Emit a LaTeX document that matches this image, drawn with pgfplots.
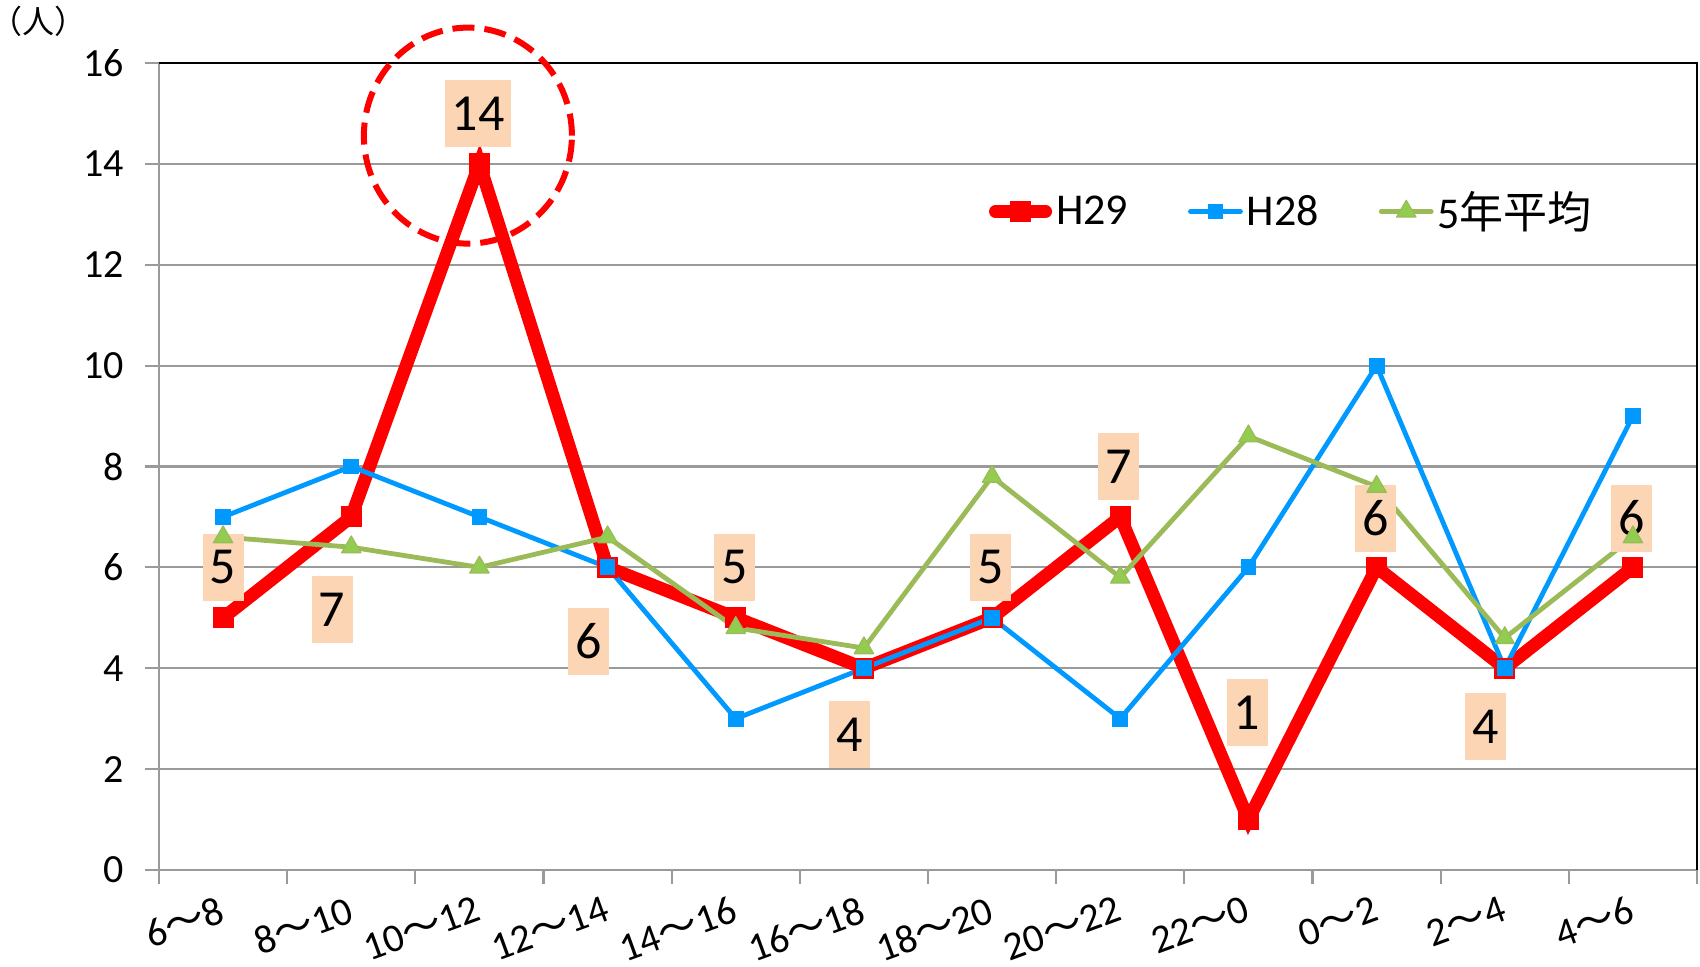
\documentclass[border=0pt]{standalone}
\usepackage{pgfplots}
\pgfplotsset{compat=1.18}
\usepackage{fontspec}
\setmainfont{Carlito}
\newfontfamily\cjk{Noto Sans CJK JP}
\definecolor{h29}{HTML}{FF0000}
\definecolor{h28}{HTML}{0099FF}
\definecolor{avg}{HTML}{9BBB59}
\definecolor{avgfill}{HTML}{92CC50}
\definecolor{peach}{HTML}{FCD5B5}
\definecolor{gridgray}{HTML}{9A9A9A}
\newcommand{\tl}{{\cjk ～}}
\begin{document}
\begin{tikzpicture}
\useasboundingbox (0,0) rectangle (850pt,483.5pt);
\begin{axis}[
  at={(79.5pt,48.5pt)}, anchor=south west,
  scale only axis, width=769pt, height=403.5pt,
  xmin=-0.5, xmax=11.5, ymin=0, ymax=16,
  axis x line*=bottom, axis y line*=left,
  axis line style={draw=gridgray, line width=1.1pt},
  xtick={-0.5,0.5,...,11.5},
  x tick label as interval,
  xticklabels={6\tl 8,8\tl 10,10\tl 12,12\tl 14,14\tl 16,16\tl 18,18\tl 20,20\tl 22,22\tl 0,0\tl 2,2\tl 4,4\tl 6},
  xticklabel style={font=\fontsize{20}{24}\selectfont, rotate=20, anchor=north east, yshift=-1pt, xshift=-1pt},
  ytick={0,2,...,16},
  yticklabel style={font=\fontsize{20}{24}\selectfont, xshift=-7pt},
  /pgf/number format/assume math mode=true,
  tick align=outside,
  major tick length=7pt,
  tick style={draw=gridgray, line width=1.1pt},
  ymajorgrids,
  major grid style={draw=gridgray, line width=1.1pt},
  clip=false,
  legend columns=3,
  legend image code/.code={\draw[#1, line cap=round, mark repeat=2, mark phase=2] plot coordinates {(0pt,0pt) (12.5pt,0pt) (25pt,0pt)};},
  legend style={at={(0.737,0.816)}, anchor=center, draw=none, fill=none,
    font=\fontsize{22}{26}\selectfont,
    /tikz/every odd column/.append style={column sep=0pt},
    /tikz/every even column/.append style={column sep=28pt}},
]
\addplot[h29, line width=6.5pt, mark=square*, mark size=5pt,
  mark options={line width=0.5pt, solid}]
  coordinates {(0,5)(1,7)(2,14)(3,6)(4,5)(5,4)(6,5)(7,7)(8,1)(9,6)(10,4)(11,6)};
\addlegendentry{H29}
\addplot[h28, line width=2.4pt, line join=round, mark=square*, mark size=3.7pt,
  mark options={line width=0.5pt, solid}]
  coordinates {(0,7)(1,8)(2,7)(3,6)(4,3)(5,4)(6,5)(7,3)(8,6)(9,10)(10,4)(11,9)};
\addlegendentry{H28}
\addplot[avg, line width=2.4pt, line join=round, mark=triangle*, mark size=5.6pt,
  mark options={line width=0.6pt, solid, fill=avgfill}]
  coordinates {(0,6.6)(1,6.4)(2,6.0)(3,6.6)(4,4.8)(5,4.4)(6,7.8)(7,5.8)(8,8.6)(9,7.6)(10,4.6)(11,6.6)};
\addlegendentry{5{\cjk 年平均}}
\draw[black, line width=1.1pt] (rel axis cs:0,1) -- (rel axis cs:1,1) -- (rel axis cs:1,0);
\tikzset{lab/.style={fill=peach, font=\fontsize{26}{30}\selectfont, minimum height=33.5pt, minimum width=20.5pt, inner sep=3.5pt}}
\node[lab] at (axis cs:0,6.0) {5};
\node[lab] at (axis cs:0.85,5.16) {7};
\node[lab] at (axis cs:1.99,14.99) {14};
\node[lab] at (axis cs:2.85,4.54) {6};
\node[lab] at (axis cs:3.99,6.0) {5};
\node[lab] at (axis cs:4.89,2.69) {4};
\node[lab] at (axis cs:5.99,6.0) {5};
\node[lab] at (axis cs:6.99,8.0) {7};
\node[lab] at (axis cs:7.99,3.12) {1};
\node[lab] at (axis cs:8.99,6.97) {6};
\node[lab] at (axis cs:9.85,2.84) {4};
\node[lab] at (axis cs:10.99,6.97) {6};
\draw[h29, line width=3pt, dash pattern=on 11pt off 5pt] (axis cs:1.91,14.56) ellipse [x radius=52pt, y radius=54pt];
\end{axis}
\node[font=\cjk\fontsize{16}{18}\selectfont] at (19pt,473pt) {（人）};
\end{tikzpicture}
\end{document}
